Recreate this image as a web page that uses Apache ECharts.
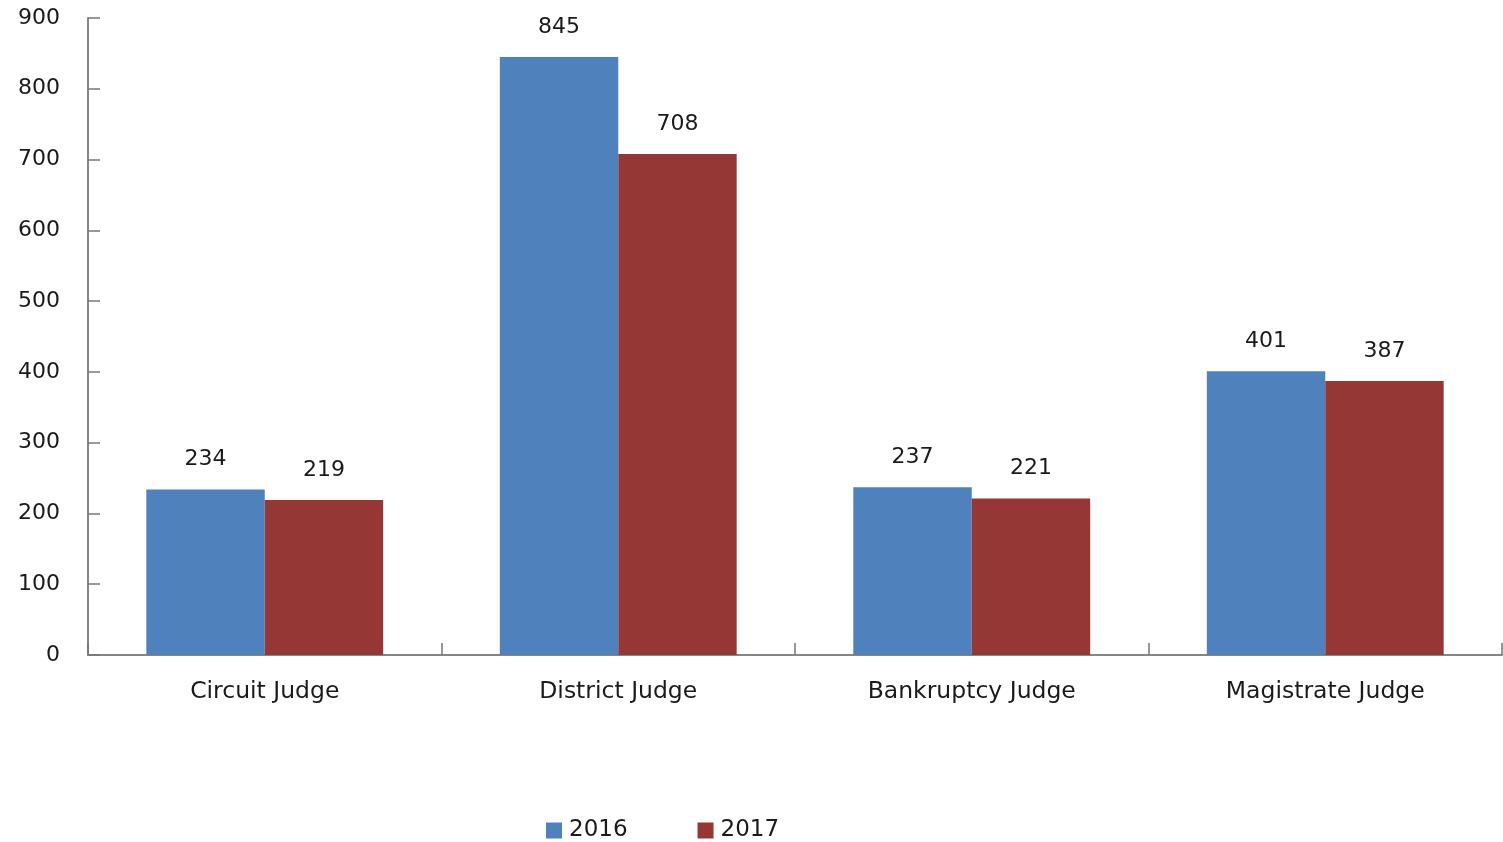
<!DOCTYPE html>
<html><head><meta charset="utf-8">
<script src="https://cdn.jsdelivr.net/npm/echarts@6/dist/echarts.min.js"></script>
<style>html,body{margin:0;padding:0;background:#fff}#c{width:1503px;height:842px}</style>
</head><body><div id="c"></div>
<script>
const categories = ["Circuit Judge", "District Judge", "Bankruptcy Judge", "Magistrate Judge"];
const values2016 = [234, 845, 237, 401];
const values2017 = [219, 708, 221, 387];
const seriesNames = ["2016", "2017"];
const yTicks = {min: 0, max: 900, interval: 100};

const chart = echarts.init(document.getElementById('c'));
const font = '"DejaVu Sans", sans-serif';
const labelStyle = {show: true, position: 'top', distance: 19, fontSize: 22, color: '#1a1a1a', fontFamily: font};
chart.setOption({
  animation: false,
  grid: {left: 88, right: 1, top: 18, bottom: 187},
  legend: {
    data: seriesNames, top: 814, left: 541, itemWidth: 16, itemHeight: 16, itemGap: 70,
    icon: 'rect', textStyle: {fontSize: 23, color: '#1a1a1a', fontFamily: font, padding: [0,0,0,2]}
  },
  xAxis: {
    type: 'category', data: categories,
    axisLine: {lineStyle: {color: '#868686', width: 2}},
    axisTick: {show: true, inside: true, length: 12, lineStyle: {color: '#777', width: 1.5}},
    axisLabel: {fontSize: 23.5, color: '#1a1a1a', margin: 25, fontFamily: font}
  },
  yAxis: {
    type: 'value', min: yTicks.min, max: yTicks.max, interval: yTicks.interval,
    splitLine: {show: false},
    axisLine: {show: true, lineStyle: {color: '#868686', width: 2}},
    axisTick: {show: true, inside: true, length: 12, lineStyle: {color: '#777', width: 1.5}},
    axisLabel: {fontSize: 22, color: '#1a1a1a', margin: 28, fontFamily: font}
  },
  series: [
    {name: seriesNames[0], type: 'bar', data: values2016, barGap: '0%', barCategoryGap: '33%',
     itemStyle: {color: '#4F81BD'}, label: labelStyle},
    {name: seriesNames[1], type: 'bar', data: values2017, barGap: '0%', barCategoryGap: '33%',
     itemStyle: {color: '#953735'}, label: labelStyle}
  ]
});
</script></body></html>
